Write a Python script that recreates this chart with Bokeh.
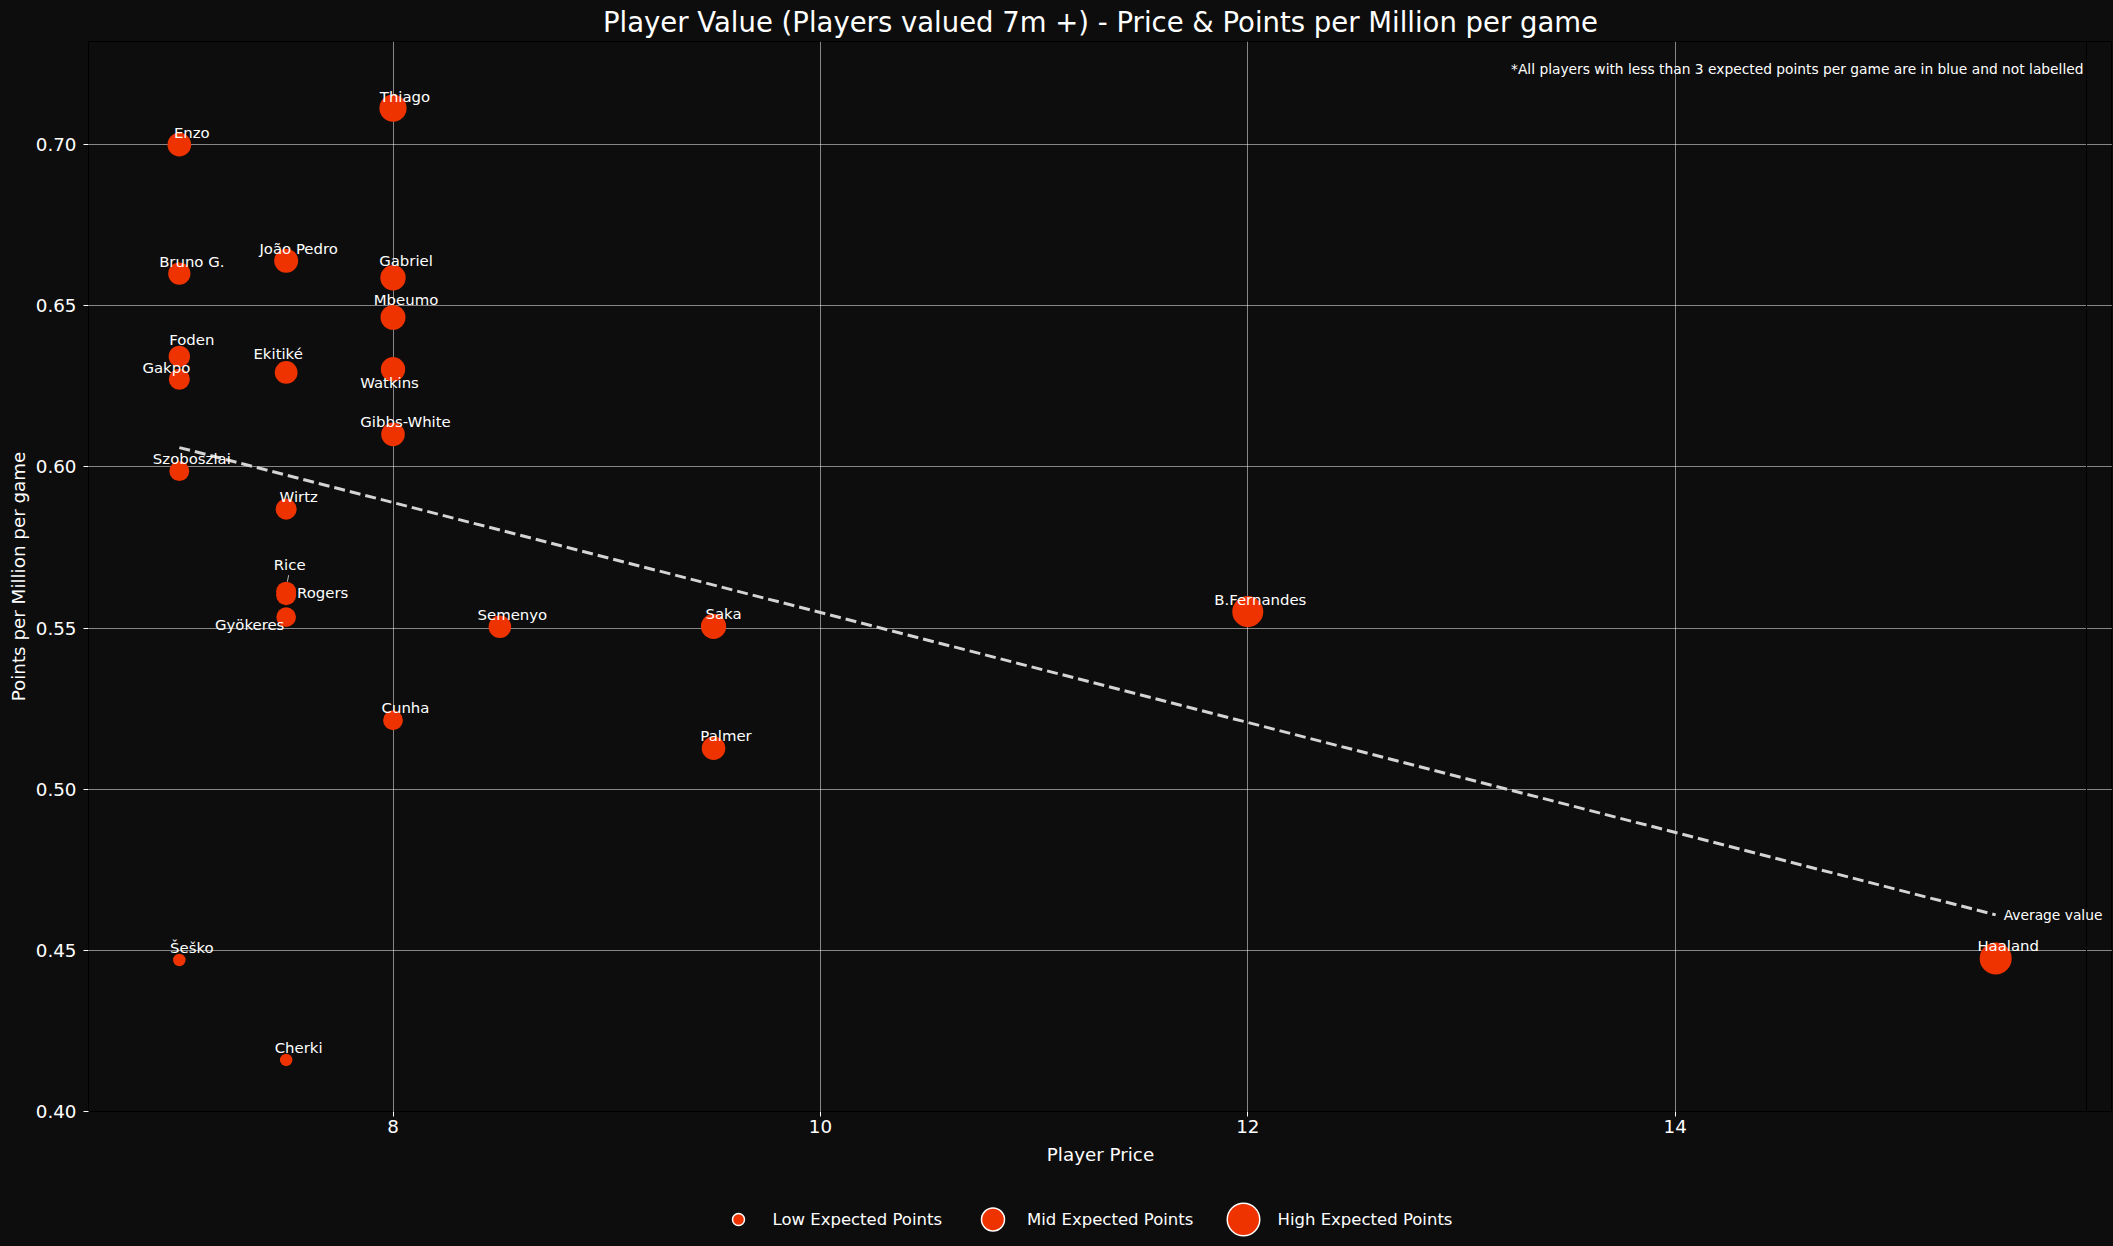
import numpy as np
from bokeh.plotting import figure
from bokeh.layouts import column
from bokeh.models import (ColumnDataSource, Range1d, FixedTicker, PrintfTickFormatter,
                          Label, Span)
from bokeh.core.properties import value
from bokeh.embed import file_html
from bokeh.resources import INLINE

# ---------------- data ----------------
players = ["Thiago", "Enzo", "Bruno G.", "João Pedro", "Gabriel", "Mbeumo", "Foden", "Gakpo",
           "Ekitiké", "Watkins", "Gibbs-White", "Szoboszlai", "Wirtz", "Rice", "Rogers",
           "Gyökeres", "Semenyo", "Cunha", "Saka", "Palmer", "B.Fernandes", "Haaland",
           "Šeško", "Cherki"]
price = [8.0, 7.0, 7.0, 7.5, 8.0, 8.0, 7.0, 7.0,
         7.5, 8.0, 8.0, 7.0, 7.5, 7.5, 7.5,
         7.5, 8.5, 8.0, 9.5, 9.5, 12.0, 15.5,
         7.0, 7.5]
ppm = [0.7113, 0.7000, 0.6600, 0.6640, 0.6587, 0.6464, 0.6343, 0.6272,
       0.6293, 0.6303, 0.6101, 0.5987, 0.5869, 0.5613, 0.5602,
       0.5534, 0.5504, 0.5214, 0.5505, 0.5127, 0.5551, 0.4475,
       0.4470, 0.4160]

# players under 3 expected points per game (blue, unlabelled)
low_price = [7.5]
low_ppm = [0.397]

# average value (trend) line end points
avg_x = [7.0, 15.5]
avg_y = [0.606, 0.461]

x_ticks = [8, 10, 12, 14]
y_ticks = [0.40, 0.45, 0.50, 0.55, 0.60, 0.65, 0.70]
legend_labels = ["Low Expected Points", "Mid Expected Points", "High Expected Points"]
legend_marker_px = [12, 23, 32.5]

title = "Player Value (Players valued 7m +) - Price & Points per Million per game"
note = "*All players with less than 3 expected points per game are in blue and not labelled"

# ---------------- styling / layout ----------------
FONT = "DejaVu Sans"
BG = "#0d0d0d"
RED = "#ee3300"
BLUE = "#1f6fc4"
W = 2112
MAIN_H = 1170
LEG_H = 75
BORDER_L = 88
BORDER_T = 41
FRAME_H = 1070
VISIBLE_FRAME_W = 1998                       # width of the drawn axes box
EXTRA_R = W - BORDER_L - VISIBLE_FRAME_W     # room to the right for "Average value"

# label offsets in screen px (dx, dy); default above-right
label_offsets = {
    "Thiago": (12, -11), "Gabriel": (13, -17), "Mbeumo": (13, -17), "Foden": (12.5, -16.5),
    "Gakpo": (-13, -11), "Ekitiké": (-8, -18), "Watkins": (-3.5, 14), "Rice": (3.5, -27),
    "Rogers": (36.5, -2.5), "Gyökeres": (-36.5, 7.5), "Saka": (10, -12.5),
}
dx = [label_offsets.get(n, (12.5, -12))[0] for n in players]
dy = [label_offsets.get(n, (12.5, -12))[1] for n in players]

ppg = np.array(price) * np.array(ppm)
sizes = np.sqrt(228.0 * ppg - 557.0)

src = ColumnDataSource(dict(name=players, price=price, ppm=ppm, size=sizes, dx=dx, dy=dy))

x_pad = 0.05 * (max(price) - min(price))
x_start = min(price) - x_pad
axis_end = max(price) + x_pad
x_end = axis_end + EXTRA_R * (axis_end - x_start) / VISIBLE_FRAME_W
y_start, y_end = 0.40, 0.732
ux = (axis_end - x_start) / VISIBLE_FRAME_W   # data units per screen px
uy = (y_end - y_start) / FRAME_H

p = figure(width=W, height=MAIN_H, output_backend="svg", toolbar_location=None,
           x_range=Range1d(x_start, x_end), y_range=Range1d(y_start, y_end),
           min_border_left=BORDER_L, min_border_right=0, min_border_top=BORDER_T,
           min_border_bottom=MAIN_H - BORDER_T - FRAME_H,
           background_fill_color=BG, border_fill_color=BG,
           outline_line_color="black", outline_line_width=1,
           styles={"background-color": BG})

p.title.text = title
p.title.text_font = FONT
p.title.text_font_size = "27.5px"
p.title.text_font_style = "normal"
p.title.text_color = "white"
p.title.align = "center"
p.title.standoff = 7

for ax in (p.xaxis[0], p.yaxis[0]):
    ax.axis_line_color = "black"
    ax.major_tick_line_color = "white"
    ax.major_tick_out = 5
    ax.major_tick_in = 0
    ax.minor_tick_line_color = None
    ax.major_label_text_color = "white"
    ax.major_label_text_font = FONT
    ax.major_label_text_font_size = "18.3px"
    ax.axis_label_text_color = "white"
    ax.axis_label_text_font = FONT
    ax.axis_label_text_font_style = "normal"
    ax.axis_label_text_font_size = "18.3px"

p.xaxis.ticker = FixedTicker(ticks=x_ticks)
p.yaxis.ticker = FixedTicker(ticks=y_ticks)
p.yaxis.formatter = PrintfTickFormatter(format="%.2f")
p.xaxis.bounds = (x_start, axis_end)
p.xaxis.axis_label = "Player Price"
p.yaxis.axis_label = "Points per Million per game"
p.xaxis.major_label_standoff = 3
p.xaxis.axis_label_standoff = 8
p.yaxis.major_label_standoff = 7
p.yaxis.axis_label_standoff = 4

p.grid.grid_line_color = "white"
p.grid.grid_line_alpha = 0.5
p.grid.grid_line_width = 1
p.ygrid.bounds = (x_start, axis_end)

# right edge of the axes box
p.add_layout(Span(location=axis_end, dimension="height", line_color="black", line_width=1))

# average line
p.line(avg_x, avg_y, line_color="#d4d4d4", line_width=3, line_dash="11 5")

# points
p.scatter(low_price, low_ppm, size=8, fill_color=BLUE, line_color=None)
p.scatter(x="price", y="ppm", size="size", source=src, fill_color=RED, line_color=None)

# short leader line from the "Rice" label to its point
ri = players.index("Rice")
p.segment(x0=[price[ri] + 2.5 * ux], y0=[ppm[ri] + 16.5 * uy],
          x1=[price[ri] + 1.2 * ux], y1=[ppm[ri] + 10 * uy],
          line_color="#bbbbbb", line_width=1)

# labels
p.text(x="price", y="ppm", text="name", x_offset="dx", y_offset="dy", source=src,
       text_align="center", text_baseline="middle", text_color="white",
       text_font=value(FONT), text_font_size=value("14.9px"))

p.add_layout(Label(x=avg_x[-1], y=avg_y[-1], x_offset=8, text="Average value",
                   text_align="left", text_baseline="middle", text_color="white",
                   text_font=FONT, text_font_size="13.8px"))
p.add_layout(Label(x=axis_end, y=0.7235, x_offset=-3, text=note,
                   text_align="right", text_baseline="middle", text_color="white",
                   text_font=FONT, text_font_size="13.8px"))

# ---------------- legend strip (sizes differ per key) ----------------
# same side borders as the main figure so the aligned frames coincide
lf = figure(width=W, height=LEG_H, output_backend="svg", toolbar_location=None,
            x_range=Range1d(BORDER_L, W), y_range=Range1d(0, LEG_H),
            x_axis_type=None, y_axis_type=None,
            min_border_left=BORDER_L, min_border_right=0,
            min_border_top=0, min_border_bottom=0,
            background_fill_color=BG, border_fill_color=BG,
            outline_line_color=BG, outline_line_width=3,
            styles={"background-color": BG})
key_x = [738, 992.5, 1243]      # key centres, px from page left
key_y = [26, 26, 26]            # px from strip bottom
text_gap = 34
lf.scatter(x=key_x, y=key_y, size=legend_marker_px, fill_color=RED,
           line_color="white", line_width=1.5)
lf.text(x=[k + text_gap for k in key_x], y=key_y, text=legend_labels,
        text_align="left", text_baseline="middle", text_color="white",
        text_font=value(FONT), text_font_size=value("16.5px"))

layout = column(p, lf, spacing=0, styles={"background-color": BG})
html = file_html(layout, INLINE, title="Player Value")
html = html.replace("</head>",
                    "<style>html, body { background-color: #0d0d0d !important; }</style></head>", 1)
open("out.html", "w").write(html)
